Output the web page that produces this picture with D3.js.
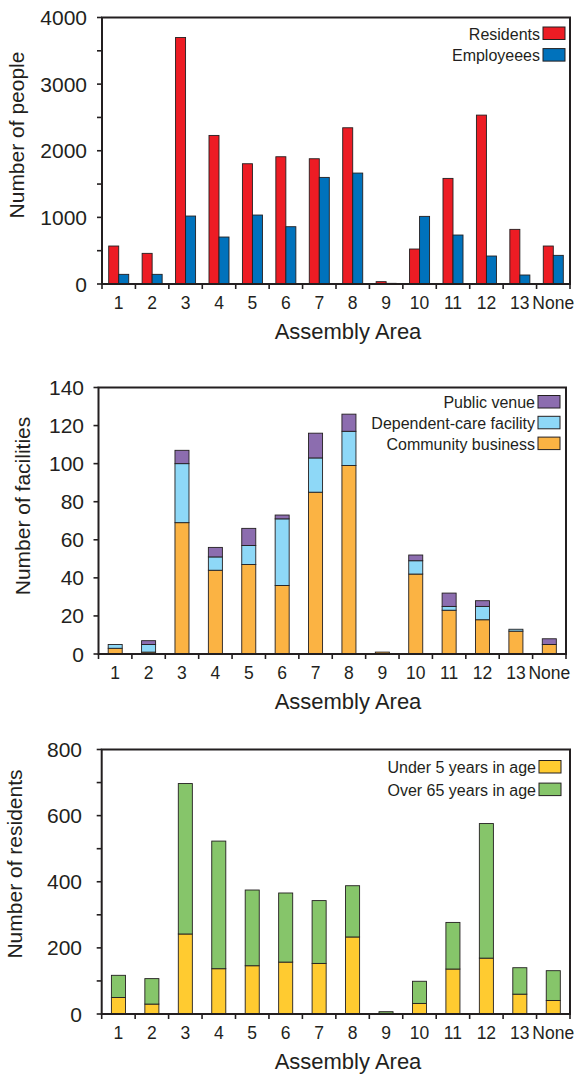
<!DOCTYPE html>
<html>
<head>
<meta charset="utf-8">
<script src="https://cdn.jsdelivr.net/npm/d3@7"></script>
<style>
  html, body { margin: 0; padding: 0; background: #fff; }
  svg { display: block; font-family: "Liberation Sans", Arial, sans-serif; }
</style>
</head>
<body>
<svg id="chart" width="581" height="1076"></svg>
<script>
// Assembly areas (shared x categories)
const areas = ["1", "2", "3", "4", "5", "6", "7", "8", "9", "10", "11", "12", "13", "None"];

// Panel 1 - people
const residents = [570, 460, 3700, 2230, 1805, 1910, 1880, 2345, 35, 525, 1585, 2535, 820, 570];
const employees = [145, 145, 1020, 705, 1035, 860, 1600, 1665, 10, 1015, 735, 420, 135, 430];
const peopleTicks = [0, 1000, 2000, 3000, 4000];

// Panel 2 - facilities (stacked, bottom to top)
const communityBusiness = [3, 1, 69, 44, 47, 36, 85, 99, 1, 42, 23, 18, 12, 5];
const dependentCare = [2, 4, 31, 7, 10, 35, 18, 18, 0, 7, 2, 7, 1, 0];
const publicVenue = [0, 2, 7, 5, 9, 2, 13, 9, 0, 3, 7, 3, 0, 3];
const facilityTicks = [0, 20, 40, 60, 80, 100, 120, 140];

// Panel 3 - vulnerable residents (stacked, bottom to top)
const under5 = [50, 30, 242, 137, 146, 157, 153, 233, 2, 32, 136, 169, 60, 41];
const over65 = [67, 77, 455, 386, 229, 209, 190, 155, 5, 67, 141, 407, 80, 90];
const residentTicks = [0, 200, 400, 600, 800];

const ink = "#231f20";
const svg = d3.select("#chart");

// shared frame: axes, ticks, box, labels
function frame(p) {
  const g = svg.append("g");
  const xEdge = d3.scaleBand().domain(areas).range([p.x0, p.x1]).padding(0);
  const y = d3.scaleLinear().domain([0, p.max]).range([p.bottom, p.top]);

  // minor y ticks
  if (p.minor) {
    g.selectAll(".minor").data(p.minor).join("line")
      .attr("x1", p.x0 - 5).attr("x2", p.x0)
      .attr("y1", d => y(d)).attr("y2", d => y(d))
      .attr("stroke", ink).attr("stroke-width", 1.6);
  }
  // major y ticks + labels
  g.selectAll(".major").data(p.ticks).join("line")
    .attr("x1", p.x0 - 5).attr("x2", p.x0)
    .attr("y1", d => y(d)).attr("y2", d => y(d))
    .attr("stroke", ink).attr("stroke-width", 1.6);
  g.selectAll(".ylab").data(p.ticks).join("text")
    .attr("x", p.labelX).attr("y", d => y(d) + 7.5)
    .attr("text-anchor", "end").attr("font-size", 21).attr("fill", ink)
    .text(d => d);

  // x ticks at band edges
  const edges = areas.map(a => xEdge(a)).concat([p.x1]);
  g.selectAll(".xt").data(edges).join("line")
    .attr("x1", d => d).attr("x2", d => d)
    .attr("y1", p.bottom).attr("y2", p.bottom + 5)
    .attr("stroke", ink).attr("stroke-width", 1.6);
  g.selectAll(".xlab").data(areas).join("text")
    .attr("x", d => xEdge(d) + xEdge.bandwidth() / 2)
    .attr("y", p.bottom + 25)
    .attr("text-anchor", "middle").attr("font-size", 17.5).attr("fill", ink)
    .text(d => d);

  // box
  g.append("path")
    .attr("d", `M${p.x0},${p.top}H${p.x1}V${p.bottom}H${p.x0}Z`)
    .attr("fill", "none").attr("stroke", ink).attr("stroke-width", 2);

  // titles
  g.append("text")
    .attr("transform", `translate(${p.titleX},${p.titleY}) rotate(-90)`)
    .attr("text-anchor", "middle").attr("font-size", 21).attr("fill", ink)
    .text(p.yTitle);
  g.append("text")
    .attr("x", 348).attr("y", p.bottom + 55)
    .attr("text-anchor", "middle").attr("font-size", 22).attr("fill", ink)
    .text("Assembly Area");

  return { g, xEdge, y };
}

function legend(g, items, right, top, pitch) {
  items.forEach((it, i) => {
    const yy = top + i * pitch;
    g.append("rect")
      .attr("x", right - 22).attr("y", yy).attr("width", 22).attr("height", 12.5)
      .attr("fill", it.color).attr("stroke", ink).attr("stroke-width", 1);
    g.append("text")
      .attr("x", right - 25).attr("y", yy + 12.5)
      .attr("text-anchor", "end").attr("font-size", 16).attr("fill", ink)
      .text(it.label);
  });
}

// ---------- Panel 1: grouped bars ----------
(function() {
  const p = { x0: 102, x1: 570, top: 17.5, bottom: 284, max: 4000,
    ticks: peopleTicks, minor: [500, 1500, 2500, 3500], labelX: 87,
    titleX: 24, titleY: 135, yTitle: "Number of people" };
  const { g, xEdge, y } = frame(p);
  const xSub = d3.scaleBand().domain(["res", "emp"]).range([0, xEdge.bandwidth()])
    .paddingInner(0).paddingOuter(0.67);
  const colors = { res: "#ed1c24", emp: "#0072bc" };
  const rows = areas.map((a, i) => ({ area: a, res: residents[i], emp: employees[i] }));

  const bars = g.insert("g", ":first-child");
  bars.selectAll("g").data(rows).join("g")
    .attr("transform", d => `translate(${xEdge(d.area)},0)`)
    .selectAll("rect").data(d => ["res", "emp"].map(k => ({ k, v: d[k] })))
    .join("rect")
    .attr("x", d => xSub(d.k)).attr("width", xSub.bandwidth())
    .attr("y", d => y(d.v)).attr("height", d => y(0) - y(d.v))
    .attr("fill", d => colors[d.k]).attr("stroke", ink).attr("stroke-width", 0.9);

  legend(g, [
    { label: "Residents", color: colors.res },
    { label: "Employeees", color: colors.emp }
  ], 565, 27, 21.6);
})();

// ---------- Panel 2: stacked facilities ----------
(function() {
  const p = { x0: 98.5, x1: 566, top: 387.5, bottom: 654, max: 140,
    ticks: facilityTicks, minor: null, labelX: 84,
    titleX: 30, titleY: 506, yTitle: "Number of facilities" };
  const { g, xEdge, y } = frame(p);
  const xBar = d3.scaleBand().domain(areas).range([p.x0, p.x1])
    .paddingInner(0.58).paddingOuter(0.29);
  const keys = ["community", "dependent", "publicv"];
  const colors = { community: "#fbb343", dependent: "#8ed8f7", publicv: "#8c6daf" };
  const rows = areas.map((a, i) => ({ area: a, community: communityBusiness[i],
    dependent: dependentCare[i], publicv: publicVenue[i] }));
  const series = d3.stack().keys(keys)(rows);

  const bars = g.insert("g", ":first-child");
  bars.selectAll("g").data(series).join("g")
    .attr("fill", d => colors[d.key])
    .selectAll("rect").data(d => d.filter(s => s[1] > s[0])).join("rect")
    .attr("x", d => xBar(d.data.area)).attr("width", xBar.bandwidth())
    .attr("y", d => y(d[1])).attr("height", d => y(d[0]) - y(d[1]))
    .attr("stroke", ink).attr("stroke-width", 0.9);

  legend(g, [
    { label: "Public venue", color: colors.publicv },
    { label: "Dependent-care facility", color: colors.dependent },
    { label: "Community business", color: colors.community }
  ], 560, 395.5, 20.8);
})();

// ---------- Panel 3: stacked residents ----------
(function() {
  const p = { x0: 101.7, x1: 570, top: 749.5, bottom: 1014, max: 800,
    ticks: residentTicks, minor: [100, 300, 500, 700], labelX: 82,
    titleX: 22, titleY: 864, yTitle: "Number of residents" };
  const { g, xEdge, y } = frame(p);
  const xBar = d3.scaleBand().domain(areas).range([p.x0, p.x1])
    .paddingInner(0.58).paddingOuter(0.29);
  const keys = ["under5", "over65"];
  const colors = { under5: "#ffcb30", over65: "#86c56a" };
  const rows = areas.map((a, i) => ({ area: a, under5: under5[i], over65: over65[i] }));
  const series = d3.stack().keys(keys)(rows);

  const bars = g.insert("g", ":first-child");
  bars.selectAll("g").data(series).join("g")
    .attr("fill", d => colors[d.key])
    .selectAll("rect").data(d => d).join("rect")
    .attr("x", d => xBar(d.data.area)).attr("width", xBar.bandwidth())
    .attr("y", d => y(d[1])).attr("height", d => y(d[0]) - y(d[1]))
    .attr("stroke", ink).attr("stroke-width", 0.9);

  legend(g, [
    { label: "Under 5 years in age", color: colors.under5 },
    { label: "Over 65 years in age", color: colors.over65 }
  ], 561, 760.5, 22.6);
})();
</script>
</body>
</html>
